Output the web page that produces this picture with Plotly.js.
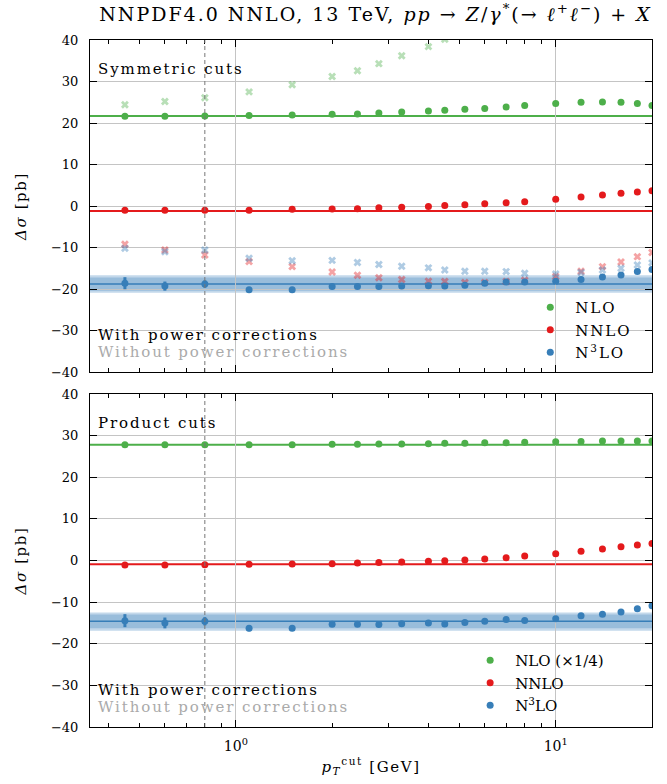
<!DOCTYPE html>
<html>
<head>
<meta charset="utf-8">
<script src="https://cdn.plot.ly/plotly-3.0.1.min.js"></script>
<style>
html,body{margin:0;padding:0;background:#fff;}
#chart{width:667px;height:784px;}
.annotation-text, .legendtext {letter-spacing:1.9px;}
.gtitle {letter-spacing:2px;}
.ytitle, .y2title, .x2title {letter-spacing:1.6px;}
</style>
</head>
<body>
<div id="chart"></div>
<script>
// ---- data ----
const ptcut = [0.45, 0.6, 0.8, 1.1, 1.5, 2, 2.4, 2.8, 3.3, 4, 4.5, 5.2, 6, 7, 8, 10, 12, 14, 16, 18, 20];

// Symmetric cuts (with power corrections)
const symNLO  = [21.6, 21.6, 21.7, 21.8, 21.9, 22.1, 22.2, 22.4, 22.65, 22.9, 23.05, 23.3, 23.5, 23.85, 24.2, 24.7, 25.0, 25.05, 25.0, 24.7, 24.2];
const symNNLO = [-1.0, -1.0, -1.0, -1.0, -0.8, -0.7, -0.65, -0.4, -0.3, -0.1, 0.1, 0.3, 0.55, 0.8, 1.05, 1.6, 2.2, 2.65, 3.05, 3.4, 3.7];
const symN3LO = [-18.6, -19.3, -18.8, -20.2, -20.2, -19.4, -19.4, -19.4, -19.3, -19.2, -19.3, -19.1, -18.6, -18.3, -18.3, -18.1, -17.7, -17.1, -16.6, -15.8, -15.3];
const symN3LOerr = [1.45, 1.1, 0.9, 0.5, 0.4, 0.4, 0.4, 0.4, 0.4, 0.4, 0.4, 0.4, 0.4, 0.4, 0.4, 0.4, 0.4, 0.4, 0.4, 0.4, 0.4];
// Symmetric cuts (without power corrections)
const symNLOnoPC  = [24.4, 25.2, 26.1, 27.5, 29.2, 31.2, 32.6, 34.3, 36.2, 38.4, 40.2, null, null, null, null, null, null, null, null, null, null];
const symNNLOnoPC = [-9.2, -10.6, -11.8, -13.4, -14.6, -15.9, -16.7, -17.3, -17.7, -18.1, -18.2, -18.4, -18.4, -18.2, -17.9, -17.0, -15.7, -14.6, -13.5, -12.2, -11.2];
const symN3LOnoPC = [-10.2, -11.0, -10.6, -12.6, -13.2, -13.1, -13.6, -14.1, -14.5, -14.9, -15.4, -15.7, -15.7, -15.8, -16.2, -16.4, -16.0, -15.4, -15.0, -14.2, -13.7];
// Symmetric cuts: reference values (horizontal lines) and N3LO uncertainty bands
const symRefNLO = 21.7, symRefNNLO = -1.2, symRefN3LO = -18.8;
const symBandOuter = [-20.9, -16.7], symBandInner = [-20.4, -17.2];

// Product cuts
const prodNLO  = [27.8, 27.8, 27.8, 27.8, 27.8, 27.9, 27.9, 28.0, 28.0, 28.06, 28.15, 28.2, 28.3, 28.3, 28.4, 28.55, 28.6, 28.7, 28.7, 28.7, 28.7];
const prodNNLO = [-1.08, -1.08, -1.0, -0.9, -0.85, -0.8, -0.6, -0.5, -0.36, -0.2, -0.04, 0.1, 0.36, 0.68, 1.08, 1.64, 2.2, 2.76, 3.3, 3.7, 4.1];
const prodN3LO = [-14.45, -15.0, -14.6, -16.3, -16.3, -15.3, -15.3, -15.4, -15.2, -15.0, -15.25, -14.9, -14.6, -14.2, -14.4, -14.0, -13.3, -12.9, -12.4, -11.6, -10.9];
const prodN3LOerr = [1.56, 1.3, 1.0, 0.7, 0.4, 0.4, 0.4, 0.4, 0.4, 0.4, 0.4, 0.4, 0.4, 0.4, 0.4, 0.4, 0.4, 0.4, 0.4, 0.4, 0.4];
const prodRefNLO = 27.8, prodRefNNLO = -0.9, prodRefN3LO = -14.6;
const prodBandOuter = [-16.9, -12.5], prodBandInner = [-16.3, -13.0];

const ptcutMarker = 0.8;
const yTicks = [-40, -30, -20, -10, 0, 10, 20, 30, 40];
const xMajor = [1, 10], xMajorText = ['10<sup>0</sup>', '10<sup>1</sup>'];
const xMinor = [0.4, 0.5, 0.6, 0.7, 0.8, 0.9, 2, 3, 4, 5, 6, 7, 8, 9, 20];

// ---- style ----
const GREEN = '#4daf4a', RED = '#e41a1c', BLUE = '#377eb8';
const FONT = 'DejaVu Serif, Liberation Serif, serif';

function pts(y, color, xa, ya, name, legend, err) {
  const t = {x: ptcut, y: y, type: 'scatter', mode: 'markers', xaxis: xa, yaxis: ya,
    marker: {color: color, size: 7}, name: name, legend: legend, showlegend: true, cliponaxis: true};
  if (err) t.error_y = {type: 'data', array: err, visible: true, color: color, thickness: 3, width: 0};
  return t;
}
function faded(y, color, xa, ya) {
  return {x: ptcut, y: y, type: 'scatter', mode: 'markers', xaxis: xa, yaxis: ya, showlegend: false,
    marker: {color: color, size: 7, symbol: 'x', opacity: 0.4}, cliponaxis: true};
}

const traces = [
  faded(symNLOnoPC, GREEN, 'x', 'y'),
  faded(symNNLOnoPC, RED, 'x', 'y'),
  faded(symN3LOnoPC, BLUE, 'x', 'y'),
  pts(symNLO, GREEN, 'x', 'y', 'NLO', 'legend'),
  pts(symNNLO, RED, 'x', 'y', 'NNLO', 'legend'),
  pts(symN3LO, BLUE, 'x', 'y', 'N<sup>3</sup>LO', 'legend', symN3LOerr),
  pts(prodNLO, GREEN, 'x2', 'y2', 'NLO (×1/4)', 'legend2'),
  pts(prodNNLO, RED, 'x2', 'y2', 'NNLO', 'legend2'),
  pts(prodN3LO, BLUE, 'x2', 'y2', 'N<sup>3</sup>LO', 'legend2', prodN3LOerr)
];

function hline(xr, yr, y, color, w) {
  return {type: 'line', xref: xr + ' domain', yref: yr, x0: 0, x1: 1, y0: y, y1: y,
    line: {color: color, width: w}, layer: 'below'};
}
function band(xr, yr, b, op) {
  return {type: 'rect', xref: xr + ' domain', yref: yr, x0: 0, x1: 1, y0: b[0], y1: b[1],
    fillcolor: BLUE, opacity: op, line: {width: 0}, layer: 'below'};
}
function vdash(xr, yr) {
  return {type: 'line', xref: xr, yref: yr + ' domain', x0: ptcutMarker, x1: ptcutMarker, y0: 0, y1: 1,
    line: {color: '#777', width: 1, dash: '4px,3px'}, layer: 'above'};
}

const shapes = [
  band('x', 'y', symBandOuter, 0.3), band('x', 'y', symBandInner, 0.3),
  hline('x', 'y', symRefNLO, GREEN, 2), hline('x', 'y', symRefNNLO, RED, 2), hline('x', 'y', symRefN3LO, BLUE, 1.5),
  band('x2', 'y2', prodBandOuter, 0.3), band('x2', 'y2', prodBandInner, 0.3),
  hline('x2', 'y2', prodRefNLO, GREEN, 2), hline('x2', 'y2', prodRefNNLO, RED, 2), hline('x2', 'y2', prodRefN3LO, BLUE, 1.5),
  vdash('x', 'y'), vdash('x2', 'y2')
];

function xax(labels) {
  return {type: 'log', range: [Math.log10(0.35), Math.log10(20)],
    tickmode: 'array', tickvals: xMajor, ticktext: xMajorText, showticklabels: labels,
    ticks: 'inside', ticklen: 7, tickwidth: 1, tickcolor: '#000', mirror: 'allticks',
    showline: true, linecolor: '#000', linewidth: 1,
    showgrid: true, gridcolor: '#c4c4c4', gridwidth: 1, zeroline: false,
    minor: {tickmode: 'array', tickvals: xMinor, ticks: 'inside', ticklen: 4, tickcolor: '#000', showgrid: false},
    tickfont: {family: FONT, size: 14, color: '#000'}, ticklabelstandoff: 6
  };
}
function yax(domain) {
  return {range: [-40, 40], domain: domain, tickmode: 'array', tickvals: yTicks,
    ticks: 'inside', ticklen: 7, tickcolor: '#000', mirror: 'allticks',
    showline: true, linecolor: '#000', linewidth: 1,
    showgrid: true, gridcolor: '#c4c4c4', gridwidth: 1, zeroline: false,
    tickfont: {family: FONT, size: 13, color: '#000'}, ticklabelstandoff: 8,
    title: {text: '<i>Δσ</i> [pb]', font: {family: FONT, size: 15, color: '#000'}, standoff: 20}
  };
}

const xa = xax(false); xa.anchor = 'y';
const xa2 = xax(true); xa2.anchor = 'y2'; xa2.matches = 'x';
xa2.title = {text: '<i>p</i><sub><i>T</i></sub><sup>cut</sup> [GeV]', font: {family: FONT, size: 15, color: '#000'}, standoff: 8};

function ann(text, x, y, color, yr) {
  return {text: text, xref: 'paper', yref: yr, x: x, y: y, xanchor: 'left', yanchor: 'middle',
    showarrow: false, font: {family: FONT, size: 15, color: color}, borderpad: 0};
}

const layout = {
  width: 667, height: 784,
  margin: {l: 90, r: 15, t: 40, b: 57},
  paper_bgcolor: '#fff', plot_bgcolor: '#fff',
  font: {family: FONT, color: '#000'},
  title: {text: 'NNPDF4.0 NNLO, 13 TeV, <i>pp</i> → <i>Z</i>/<i>γ</i><sup>*</sup>(→ <i>ℓ</i><sup>+</sup><i>ℓ</i><sup>−</sup>) + <i>X</i>',
          font: {family: FONT, size: 19, color: '#000'}, x: 0.508, xref: 'paper', y: 0.982, yref: 'container', yanchor: 'middle'},
  xaxis: xa, xaxis2: xa2,
  yaxis: yax([0.5167, 1]), yaxis2: yax([0, 0.4847]),
  shapes: shapes,
  annotations: [
    ann('Symmetric cuts', 0.012, 0.958, '#000', 'paper'),
    ann('With power corrections', 0.012, 0.5706, '#000', 'paper'),
    ann('Without power corrections', 0.012, 0.5457, '#aaaaaa', 'paper'),
    ann('Product cuts', 0.012, 0.4425, '#000', 'paper'),
    ann('With power corrections', 0.012, 0.0541, '#000', 'paper'),
    ann('Without power corrections', 0.012, 0.0293, '#aaaaaa', 'paper')
  ],
  legend: {x: 0.7745, y: 0.6346, xanchor: 'left', yanchor: 'top', bgcolor: 'rgba(0,0,0,0)', itemwidth: 40,
           font: {family: FONT, size: 15, color: '#000'}, tracegroupgap: 0},
  legend2: {x: 0.6675, y: 0.1207, xanchor: 'left', yanchor: 'top', bgcolor: 'rgba(0,0,0,0)', itemwidth: 40,
           font: {family: FONT, size: 15, color: '#000'}, tracegroupgap: 0}
};

Plotly.newPlot('chart', traces, layout, {staticPlot: true, displayModeBar: false});
</script>
</body>
</html>
